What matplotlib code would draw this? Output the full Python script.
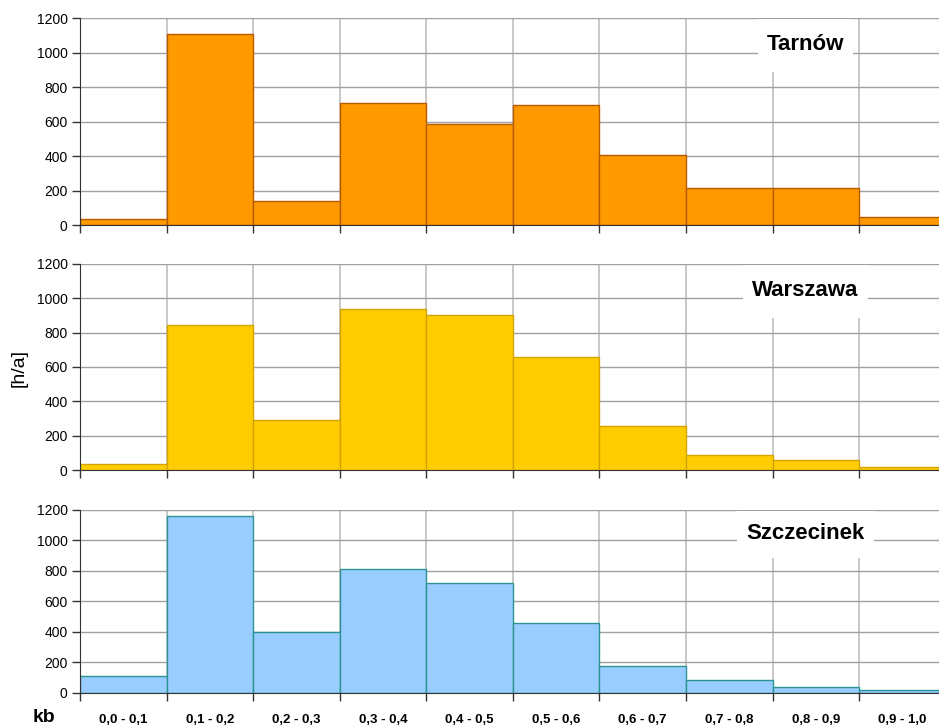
import matplotlib.pyplot as plt
from matplotlib.patches import Rectangle

plt.rcParams['font.family'] = ['Liberation Sans', 'DejaVu Sans']

classes = ['0,0 - 0,1', '0,1 - 0,2', '0,2 - 0,3', '0,3 - 0,4', '0,4 - 0,5',
           '0,5 - 0,6', '0,6 - 0,7', '0,7 - 0,8', '0,8 - 0,9', '0,9 - 1,0']

tarnow = [35, 1110, 140, 705, 585, 695, 405, 215, 215, 45]
warszawa = [35, 845, 290, 938, 903, 658, 258, 90, 60, 17]
szczecinek = [111, 1160, 400, 813, 721, 459, 177, 85, 39, 20]

stations = ['Tarnów', 'Warszawa', 'Szczecinek']
series = [tarnow, warszawa, szczecinek]
face = ['#fe9a00', '#ffcc00', '#99ccff']
edge = ['#b85a00', '#d4a400', '#2a9494']

# axes boxes in figure fractions (left, bottom, width, height)
boxes = [
    [0.0852, 0.6905, 0.922, 0.2847],
    [0.0852, 0.3535, 0.922, 0.2834],
    [0.0852, 0.0468, 0.922, 0.2517],
]

fig = plt.figure(figsize=(9.39, 7.27), dpi=100)
axes = []
for i in range(3):
    ax = fig.add_axes(boxes[i])
    centers = [k + 0.5 for k in range(len(classes))]
    ax.bar(centers, series[i], width=1.0, color=face[i], edgecolor=edge[i],
           linewidth=1.0, zorder=2)
    ax.set_xlim(0, 10)
    ax.set_ylim(0, 1200)
    ax.set_yticks(range(0, 1201, 200))
    ax.set_xticks(range(0, 11))
    ax.set_xticklabels([])
    ax.set_axisbelow(True)
    ax.grid(axis='y', color='#a0a0a0', linewidth=1.0, zorder=0)
    ax.grid(axis='x', color='#c4c4c4', linewidth=1.3, zorder=0)
    for s in ['top', 'right']:
        ax.spines[s].set_visible(False)
    ax.spines['left'].set_color('#333333')
    ax.spines['bottom'].set_color('#333333')
    ax.tick_params(axis='y', length=6, width=1, pad=3, labelsize=10,
                   colors='#333333', labelcolor='black')
    ax.tick_params(axis='x', length=6, width=1, colors='#333333')
    axes.append(ax)

# interval labels under the bottom panel
ax = axes[2]
ax.set_xticks([k + 0.5 for k in range(len(classes))], minor=True)
ax.set_xticklabels(classes, minor=True, fontsize=9.5, fontweight='bold')
ax.tick_params(axis='x', which='minor', length=0, pad=15)

fig.text(0.047, 0.0125, 'kb', fontsize=14, fontweight='bold',
         ha='center', va='center')
fig.text(0.02, 0.494, '[h/a]', fontsize=14, rotation=90,
         ha='center', va='center')

# station names on white plates cutting through the grid
fig.canvas.draw()
renderer = fig.canvas.get_renderer()
for ax, name in zip(axes, stations):
    t = ax.text(0.838, 0.87, name, transform=ax.transAxes, fontsize=16,
                fontweight='bold', ha='center', va='center', zorder=4)
    bb = t.get_window_extent(renderer).transformed(ax.transAxes.inverted())
    padx = 9 / ax.bbox.width
    ax.add_patch(Rectangle((bb.x0 - padx, 0.74), bb.width + 2 * padx, 0.255,
                           transform=ax.transAxes, facecolor='white',
                           edgecolor='none', zorder=1.5))

fig.savefig('out.png', dpi=100, facecolor='white')
